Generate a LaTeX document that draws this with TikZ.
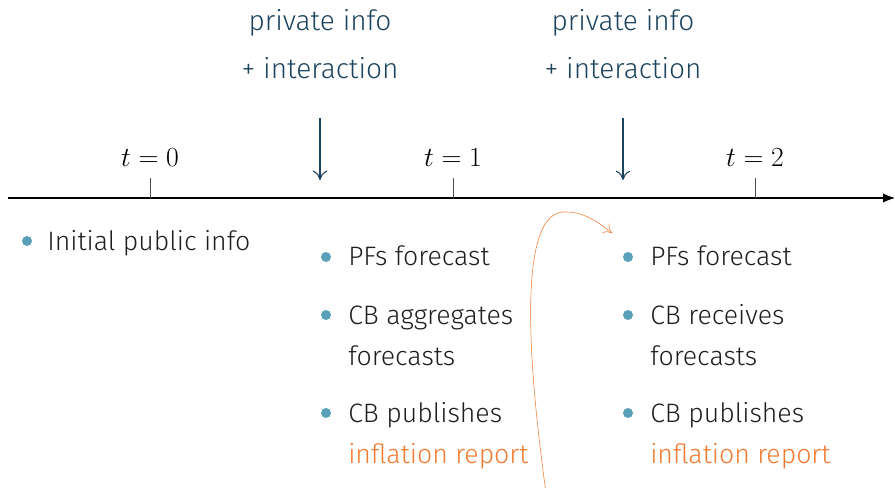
\documentclass[tikz,border=0pt]{standalone}
\usepackage[no-math]{fontspec}
\setmainfont{Fira Sans Light}
\usetikzlibrary{arrows.meta, positioning}
\definecolor{infoblue}{RGB}{28,68,94}
\definecolor{bulletteal}{RGB}{90,160,185}
\definecolor{reportorange}{RGB}{240,122,48}
\definecolor{bodytext}{RGB}{30,30,30}

\begin{document}
\begin{tikzpicture}[
    x=0.75pt, y=-0.75pt,
    itembox/.style={anchor=base west, align=left, inner sep=0pt, text=bodytext, font=\fontsize{20}{30.75}\selectfont},
    infolabel/.style={anchor=base, inner sep=0pt, text=infoblue, font=\fontsize{21}{30.75}\selectfont},
    timelabel/.style={anchor=base, inner sep=0pt, font=\fontsize{22}{26}\selectfont},
    dot/.style={circle, fill=bulletteal, inner sep=0pt, minimum size=7.5pt},
    tick/.style={draw=black!70, thin},
    arrow/.style={-{To[length=7pt, width=11pt]}, thick, infoblue}
]
\useasboundingbox (0,0) rectangle (895,488);

% Time axis
\coordinate (axisstart) at (8,198);
\coordinate (axisend) at (895,198);
\draw[thick, -{Latex[length=9pt, width=7pt]}] (axisstart) -- (axisend);

% Ticks and dates
\foreach \x/\t in {150/0, 453/1, 755/2} {
  \coordinate (tick\t) at (\x,198);
  \draw[tick] (tick\t) -- ++(0,-20);
  \node[timelabel] (date\t) at (\x,167) {$t=\t$};
}

% Private info arrows
\foreach \x/\n in {320/a, 623/b} {
  \node[infolabel] (priv\n) at (\x,31) {private info};
  \node[infolabel] (inter\n) at (\x,79) {+ interaction};
  \coordinate (arrtop\n) at (\x,118);
  \coordinate (arrbot\n) at (\x,180);
  \draw[arrow] (arrtop\n) -- (arrbot\n);
}

% Items at t=0
\node[dot] (d0) at (27,241) {};
\node[itembox] (init) at (47,250) {Initial public info};

% Items at t=1 (base = last line)
\node[dot] (d1a) at (326,257) {};
\node[itembox] (pf1) at (348,266) {PFs forecast};
\node[dot] (d1b) at (326,315) {};
\node[itembox] (agg1) at (348,365) {CB aggregates\\forecasts};
\node[dot] (d1c) at (326,413) {};
\node[itembox] (pub1) at (348,463) {CB publishes\\\textcolor{reportorange}{inflation report}};

% Items at t=2
\node[dot] (d2a) at (628,257) {};
\node[itembox] (pf2) at (650,266) {PFs forecast};
\node[dot] (d2b) at (628,315) {};
\node[itembox] (rec2) at (650,365) {CB receives\\forecasts};
\node[dot] (d2c) at (628,413) {};
\node[itembox] (pub2) at (650,463) {CB publishes\\\textcolor{reportorange}{inflation report}};

% Report feeds the next forecast
\coordinate (loopstart) at (547,500);
\coordinate (looptop) at (563,212);
\coordinate (loopend) at (612,233);
\begin{scope}
\clip (0,0) rectangle (895,488);
\draw[reportorange, -{To[length=6pt, width=9pt]}] (loopstart) .. controls (530,380) and (515,215) .. (looptop) .. controls (585,211) and (600,224) .. (loopend);
\end{scope}

\end{tikzpicture}
\end{document}
